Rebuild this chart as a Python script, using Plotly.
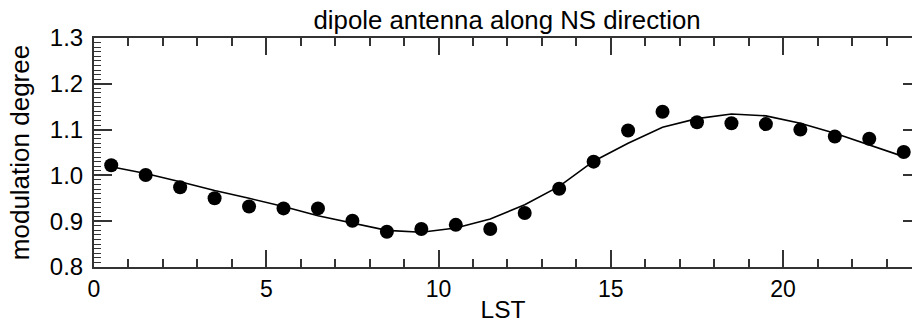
import plotly.graph_objects as go

lst = [0.5, 1.5, 2.5, 3.5, 4.5, 5.5, 6.5, 7.5, 8.5, 9.5, 10.5, 11.5,
       12.5, 13.5, 14.5, 15.5, 16.5, 17.5, 18.5, 19.5, 20.5, 21.5, 22.5, 23.5]
measured = [1.022, 1.001, 0.974, 0.950, 0.932, 0.928, 0.928, 0.901, 0.877, 0.883, 0.892, 0.883,
            0.918, 0.971, 1.030, 1.098, 1.139, 1.116, 1.114, 1.112, 1.100, 1.085, 1.080, 1.051]
model = [1.019, 1.004, 0.986, 0.967, 0.950, 0.932, 0.912, 0.896, 0.880, 0.876, 0.885, 0.905,
         0.936, 0.976, 1.031, 1.070, 1.105, 1.124, 1.134, 1.130, 1.114, 1.092, 1.066, 1.041]

title_text = "dipole antenna along NS direction"
x_title = "LST"
y_title = "modulation degree"

FONT = "Liberation Sans, Arial, Helvetica, sans-serif"
AX = "#333333"

fig = go.Figure()
fig.add_trace(go.Scatter(x=lst, y=model, mode="lines",
                         line=dict(color="black", width=1.6), hoverinfo="skip"))
fig.add_trace(go.Scatter(x=lst, y=measured, mode="markers",
                         marker=dict(color="black", size=14)))
fig.add_trace(go.Scatter(x=[], y=[], yaxis="y2"))

fig.update_layout(
    width=912, height=323,
    margin=dict(l=94, r=0, t=38, b=56),
    paper_bgcolor="white", plot_bgcolor="white",
    showlegend=False,
    font=dict(family=FONT, color="black"),
    title=dict(text=title_text, font=dict(size=25.8, color="black"),
               xref="paper", x=0.505, xanchor="center",
               yref="container", y=1 - 20 / 323, yanchor="middle"),
    xaxis=dict(range=[0, 23.74], tick0=0, dtick=5, ticks="inside", ticklen=17,
               tickwidth=1.5, tickcolor=AX, showline=True, linecolor=AX, linewidth=2,
               mirror="ticks", showgrid=False, zeroline=False,
               minor=dict(dtick=1, ticks="inside", ticklen=8, tickwidth=1.5,
                          tickcolor=AX, showgrid=False),
               tickfont=dict(size=23),
               title=dict(text=x_title, font=dict(size=24.5), standoff=3)),
    yaxis=dict(range=[0.8, 1.3], tick0=0.8, dtick=0.1, tickformat=".1f",
               ticks="inside", ticklen=18, tickwidth=1.5, tickcolor=AX,
               showline=True, linecolor=AX, linewidth=2, mirror=False,
               showgrid=False, zeroline=False, ticklabelstandoff=4,
               minor=dict(dtick=0.01, ticks="inside", ticklen=7, tickwidth=1.2,
                          tickcolor=AX, showgrid=False),
               tickfont=dict(size=24),
               title=dict(text=y_title, font=dict(size=26), standoff=13)),
    yaxis2=dict(range=[0.8, 1.3], overlaying="y", side="right", tick0=0.8, dtick=0.1,
                ticks="inside", ticklen=9, tickwidth=1.5, tickcolor=AX,
                showticklabels=False, showgrid=False, zeroline=False,
                showline=True, linecolor="#bbbbbb", linewidth=1),
)

fig.write_html("out.html")
